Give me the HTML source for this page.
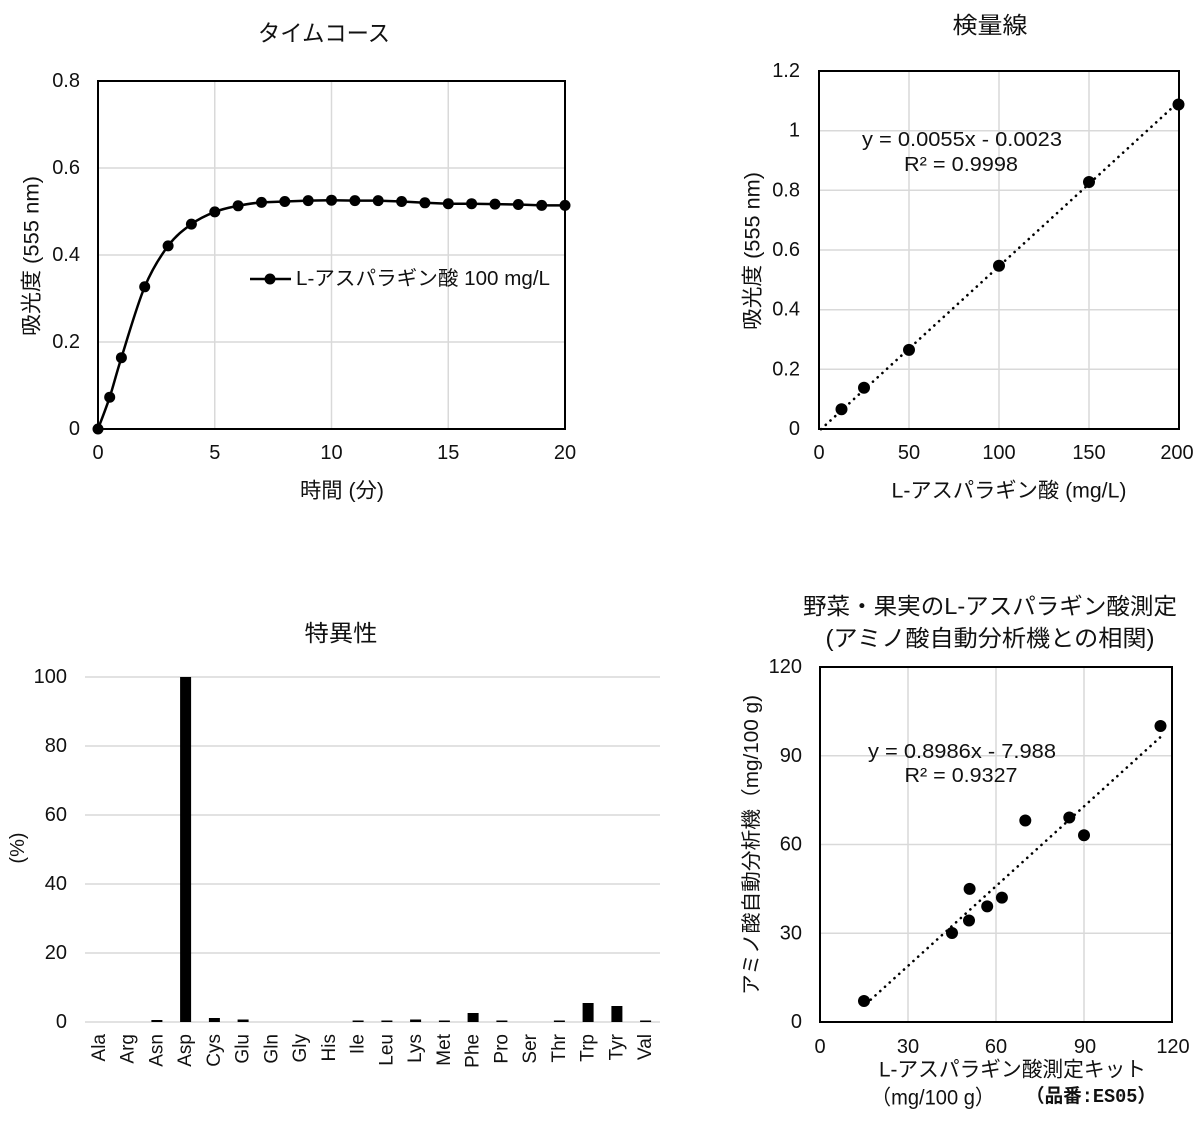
<!DOCTYPE html>
<html>
<head>
<meta charset="utf-8">
<style>
  html,body{margin:0;padding:0;background:#fff;}
  svg{display:block;}
  text{font-family:"Liberation Sans","Noto Sans CJK JP",sans-serif;fill:#111;}
  .t{font-size:20px;}
  .ttl{font-size:23px;}
  .ax{font-size:21px;}
  .cat{font-size:19px;}
</style>
</head>
<body>
<svg width="1200" height="1132" viewBox="0 0 1200 1132" xmlns="http://www.w3.org/2000/svg">
<rect width="1200" height="1132" fill="#fff"/>

<!-- ============ Chart 1: タイムコース ============ -->
<g>
  <text class="ttl" x="324" y="33" text-anchor="middle" dominant-baseline="central" textLength="132" lengthAdjust="spacingAndGlyphs">タイムコース</text>
  <!-- grid -->
  <g stroke="#d9d9d9" stroke-width="1.5">
    <line x1="214.75" y1="81" x2="214.75" y2="429"/>
    <line x1="331.5" y1="81" x2="331.5" y2="429"/>
    <line x1="448.25" y1="81" x2="448.25" y2="429"/>
    <line x1="98" y1="168" x2="565" y2="168"/>
    <line x1="98" y1="255" x2="565" y2="255"/>
    <line x1="98" y1="342" x2="565" y2="342"/>
  </g>
  <rect x="98" y="81" width="467" height="348" fill="none" stroke="#000" stroke-width="2"/>
  <!-- y ticks -->
  <g class="t" text-anchor="end">
    <text x="80" y="81" dominant-baseline="central">0.8</text>
    <text x="80" y="168" dominant-baseline="central">0.6</text>
    <text x="80" y="255" dominant-baseline="central">0.4</text>
    <text x="80" y="342" dominant-baseline="central">0.2</text>
    <text x="80" y="429" dominant-baseline="central">0</text>
  </g>
  <g class="t" text-anchor="middle">
    <text x="98" y="453" dominant-baseline="central">0</text>
    <text x="214.75" y="453" dominant-baseline="central">5</text>
    <text x="331.5" y="453" dominant-baseline="central">10</text>
    <text x="448.25" y="453" dominant-baseline="central">15</text>
    <text x="565" y="453" dominant-baseline="central">20</text>
  </g>
  <text class="ax" x="32" y="256" transform="rotate(-90 32 256)" text-anchor="middle" dominant-baseline="central" textLength="160" lengthAdjust="spacingAndGlyphs">吸光度 (555 nm)</text>
  <text class="ax" x="342" y="491" text-anchor="middle" dominant-baseline="central" textLength="84" lengthAdjust="spacingAndGlyphs">時間 (分)</text>
  <!-- curve -->
  <path fill="none" stroke="#000" stroke-width="2.5" stroke-linejoin="round"
    d="M98,429 C99.95,423.7 105.8,409.1 109.7,397.2
       C113.6,385.3 115.57,376.1 121.4,357.7
       C127.23,339.3 136.9,305.4 144.7,286.8
       C152.5,268.2 160.3,256.35 168.1,245.9
       C175.9,235.45 183.6,229.8 191.4,224.1
       C199.2,218.4 207.0,214.95 214.8,211.9
       C222.6,208.85 230.3,207.4 238.1,205.8
       C246,204.3 253.7,203 261.5,202.4
       L284.8,201.5 L308.2,200.6 L331.5,200.2 L354.9,200.6 L378.2,200.6 L401.6,201.5
       L424.9,202.8 L448.3,203.7 L471.6,203.7 L495,204.1 L518.3,204.5 L541.7,205.4 L565,205.4"/>
  <g fill="#000">
    <circle cx="98" cy="429" r="5.5"/>
    <circle cx="109.7" cy="397.2" r="5.5"/>
    <circle cx="121.4" cy="357.7" r="5.5"/>
    <circle cx="144.7" cy="286.8" r="5.5"/>
    <circle cx="168.1" cy="245.9" r="5.5"/>
    <circle cx="191.4" cy="224.1" r="5.5"/>
    <circle cx="214.8" cy="211.9" r="5.5"/>
    <circle cx="238.1" cy="205.8" r="5.5"/>
    <circle cx="261.5" cy="202.4" r="5.5"/>
    <circle cx="284.8" cy="201.5" r="5.5"/>
    <circle cx="308.2" cy="200.6" r="5.5"/>
    <circle cx="331.5" cy="200.2" r="5.5"/>
    <circle cx="354.9" cy="200.6" r="5.5"/>
    <circle cx="378.2" cy="200.6" r="5.5"/>
    <circle cx="401.6" cy="201.5" r="5.5"/>
    <circle cx="424.9" cy="202.8" r="5.5"/>
    <circle cx="448.3" cy="203.7" r="5.5"/>
    <circle cx="471.6" cy="203.7" r="5.5"/>
    <circle cx="495" cy="204.1" r="5.5"/>
    <circle cx="518.3" cy="204.5" r="5.5"/>
    <circle cx="541.7" cy="205.4" r="5.5"/>
    <circle cx="565" cy="205.4" r="5.5"/>
  </g>
  <!-- legend -->
  <line x1="250" y1="279" x2="291" y2="279" stroke="#000" stroke-width="2.5"/>
  <circle cx="270" cy="279" r="5.5" fill="#000"/>
  <text class="t" x="296" y="279" dominant-baseline="central" textLength="254" lengthAdjust="spacingAndGlyphs">L-アスパラギン酸 100 mg/L</text>
</g>

<!-- ============ Chart 2: 検量線 ============ -->
<g>
  <text class="ttl" x="990" y="25" text-anchor="middle" dominant-baseline="central" textLength="75" lengthAdjust="spacingAndGlyphs">検量線</text>
  <g stroke="#d9d9d9" stroke-width="1.5">
    <line x1="909" y1="71" x2="909" y2="429"/>
    <line x1="999" y1="71" x2="999" y2="429"/>
    <line x1="1089" y1="71" x2="1089" y2="429"/>
    <line x1="819" y1="130.7" x2="1179" y2="130.7"/>
    <line x1="819" y1="190.3" x2="1179" y2="190.3"/>
    <line x1="819" y1="250" x2="1179" y2="250"/>
    <line x1="819" y1="309.7" x2="1179" y2="309.7"/>
    <line x1="819" y1="369.3" x2="1179" y2="369.3"/>
  </g>
  <rect x="819" y="71" width="360" height="358" fill="none" stroke="#000" stroke-width="2"/>
  <g class="t" text-anchor="end">
    <text x="800" y="71" dominant-baseline="central">1.2</text>
    <text x="800" y="130.7" dominant-baseline="central">1</text>
    <text x="800" y="190.3" dominant-baseline="central">0.8</text>
    <text x="800" y="250" dominant-baseline="central">0.6</text>
    <text x="800" y="309.7" dominant-baseline="central">0.4</text>
    <text x="800" y="369.3" dominant-baseline="central">0.2</text>
    <text x="800" y="429" dominant-baseline="central">0</text>
  </g>
  <g class="t" text-anchor="middle">
    <text x="819" y="453" dominant-baseline="central">0</text>
    <text x="909" y="453" dominant-baseline="central">50</text>
    <text x="999" y="453" dominant-baseline="central">100</text>
    <text x="1089" y="453" dominant-baseline="central">150</text>
    <text x="1177" y="453" dominant-baseline="central">200</text>
  </g>
  <text class="ax" x="753" y="251" transform="rotate(-90 753 251)" text-anchor="middle" dominant-baseline="central" textLength="158" lengthAdjust="spacingAndGlyphs">吸光度 (555 nm)</text>
  <text class="ax" x="1009" y="491" text-anchor="middle" dominant-baseline="central" textLength="235" lengthAdjust="spacingAndGlyphs">L-アスパラギン酸 (mg/L)</text>
  <line x1="821" y1="429.2" x2="1179" y2="101.5" stroke="#000" stroke-width="2.6" stroke-dasharray="0.1 6.3" stroke-linecap="round"/>
  <g fill="#000">
    <circle cx="841.5" cy="409.3" r="6"/>
    <circle cx="864" cy="387.8" r="6"/>
    <circle cx="909" cy="349.9" r="6"/>
    <circle cx="999" cy="265.8" r="6"/>
    <circle cx="1089" cy="182" r="6"/>
    <circle cx="1178.5" cy="104.5" r="6"/>
  </g>
  <text class="t" x="962" y="140" text-anchor="middle" dominant-baseline="central" textLength="200" lengthAdjust="spacingAndGlyphs">y = 0.0055x - 0.0023</text>
  <text class="t" x="961" y="165" text-anchor="middle" dominant-baseline="central" textLength="114" lengthAdjust="spacingAndGlyphs">R² = 0.9998</text>
</g>

<!-- ============ Chart 3: 特異性 ============ -->
<g>
  <text class="ttl" x="341" y="633" text-anchor="middle" dominant-baseline="central" textLength="73" lengthAdjust="spacingAndGlyphs">特異性</text>
  <g stroke="#d9d9d9" stroke-width="1.5">
    <line x1="85" y1="677" x2="660" y2="677"/>
    <line x1="85" y1="746" x2="660" y2="746"/>
    <line x1="85" y1="815" x2="660" y2="815"/>
    <line x1="85" y1="884" x2="660" y2="884"/>
    <line x1="85" y1="953" x2="660" y2="953"/>
    <line x1="85" y1="1022" x2="660" y2="1022"/>
  </g>
  <g class="t" text-anchor="end">
    <text x="67" y="677" dominant-baseline="central">100</text>
    <text x="67" y="746" dominant-baseline="central">80</text>
    <text x="67" y="815" dominant-baseline="central">60</text>
    <text x="67" y="884" dominant-baseline="central">40</text>
    <text x="67" y="953" dominant-baseline="central">20</text>
    <text x="67" y="1022" dominant-baseline="central">0</text>
  </g>
  <text class="t" x="18" y="848" transform="rotate(-90 18 848)" text-anchor="middle" dominant-baseline="central">(%)</text>
  <g fill="#000">
    <rect x="151.4" y="1020" width="11" height="2"/>
    <rect x="180.1" y="677" width="11" height="345"/>
    <rect x="208.9" y="1018" width="11" height="4"/>
    <rect x="237.6" y="1019.5" width="11" height="2.5"/>
    <rect x="352.6" y="1020.5" width="11" height="1.5"/>
    <rect x="381.4" y="1020.5" width="11" height="1.5"/>
    <rect x="410.1" y="1019.5" width="11" height="2.5"/>
    <rect x="438.9" y="1020.5" width="11" height="1.5"/>
    <rect x="467.6" y="1013" width="11" height="9"/>
    <rect x="496.4" y="1020.5" width="11" height="1.5"/>
    <rect x="553.9" y="1020.5" width="11" height="1.5"/>
    <rect x="582.6" y="1003" width="11" height="19"/>
    <rect x="611.4" y="1006" width="11" height="16"/>
    <rect x="640.1" y="1020.5" width="11" height="1.5"/>
  </g>
  <g class="cat" text-anchor="end">
    <text x="99.4" y="1034" transform="rotate(-90 99.4 1034)" dominant-baseline="central">Ala</text>
    <text x="128.1" y="1034" transform="rotate(-90 128.1 1034)" dominant-baseline="central">Arg</text>
    <text x="156.9" y="1034" transform="rotate(-90 156.9 1034)" dominant-baseline="central">Asn</text>
    <text x="185.6" y="1034" transform="rotate(-90 185.6 1034)" dominant-baseline="central">Asp</text>
    <text x="214.4" y="1034" transform="rotate(-90 214.4 1034)" dominant-baseline="central">Cys</text>
    <text x="243.1" y="1034" transform="rotate(-90 243.1 1034)" dominant-baseline="central">Glu</text>
    <text x="271.9" y="1034" transform="rotate(-90 271.9 1034)" dominant-baseline="central">Gln</text>
    <text x="300.6" y="1034" transform="rotate(-90 300.6 1034)" dominant-baseline="central">Gly</text>
    <text x="329.4" y="1034" transform="rotate(-90 329.4 1034)" dominant-baseline="central">His</text>
    <text x="358.1" y="1034" transform="rotate(-90 358.1 1034)" dominant-baseline="central">Ile</text>
    <text x="386.9" y="1034" transform="rotate(-90 386.9 1034)" dominant-baseline="central">Leu</text>
    <text x="415.6" y="1034" transform="rotate(-90 415.6 1034)" dominant-baseline="central">Lys</text>
    <text x="444.4" y="1034" transform="rotate(-90 444.4 1034)" dominant-baseline="central">Met</text>
    <text x="473.1" y="1034" transform="rotate(-90 473.1 1034)" dominant-baseline="central">Phe</text>
    <text x="501.9" y="1034" transform="rotate(-90 501.9 1034)" dominant-baseline="central">Pro</text>
    <text x="530.6" y="1034" transform="rotate(-90 530.6 1034)" dominant-baseline="central">Ser</text>
    <text x="559.4" y="1034" transform="rotate(-90 559.4 1034)" dominant-baseline="central">Thr</text>
    <text x="588.1" y="1034" transform="rotate(-90 588.1 1034)" dominant-baseline="central">Trp</text>
    <text x="616.9" y="1034" transform="rotate(-90 616.9 1034)" dominant-baseline="central">Tyr</text>
    <text x="645.6" y="1034" transform="rotate(-90 645.6 1034)" dominant-baseline="central">Val</text>
  </g>
</g>

<!-- ============ Chart 4: 相関 ============ -->
<g>
  <text class="ttl" x="990" y="606" text-anchor="middle" dominant-baseline="central" textLength="374" lengthAdjust="spacingAndGlyphs">野菜・果実のL-アスパラギン酸測定</text>
  <text class="ttl" x="990" y="638" text-anchor="middle" dominant-baseline="central" textLength="329" lengthAdjust="spacingAndGlyphs">(アミノ酸自動分析機との相関)</text>
  <g stroke="#d9d9d9" stroke-width="1.5">
    <line x1="908" y1="667" x2="908" y2="1022"/>
    <line x1="996" y1="667" x2="996" y2="1022"/>
    <line x1="1084" y1="667" x2="1084" y2="1022"/>
    <line x1="820" y1="755.75" x2="1172" y2="755.75"/>
    <line x1="820" y1="844.5" x2="1172" y2="844.5"/>
    <line x1="820" y1="933.25" x2="1172" y2="933.25"/>
  </g>
  <rect x="820" y="667" width="352" height="355" fill="none" stroke="#000" stroke-width="2"/>
  <g class="t" text-anchor="end">
    <text x="802" y="667" dominant-baseline="central">120</text>
    <text x="802" y="755.75" dominant-baseline="central">90</text>
    <text x="802" y="844.5" dominant-baseline="central">60</text>
    <text x="802" y="933.25" dominant-baseline="central">30</text>
    <text x="802" y="1022" dominant-baseline="central">0</text>
  </g>
  <g class="t" text-anchor="middle">
    <text x="820" y="1047" dominant-baseline="central">0</text>
    <text x="908" y="1047" dominant-baseline="central">30</text>
    <text x="996" y="1047" dominant-baseline="central">60</text>
    <text x="1085" y="1047" dominant-baseline="central">90</text>
    <text x="1173" y="1047" dominant-baseline="central">120</text>
  </g>
  <text class="t" x="752" y="845" transform="rotate(-90 752 845)" text-anchor="middle" dominant-baseline="central" textLength="300" lengthAdjust="spacingAndGlyphs">アミノ酸自動分析機（mg/100 g)</text>
  <line x1="866" y1="1004" x2="1160" y2="737.5" stroke="#000" stroke-width="2.6" stroke-dasharray="0.1 6.3" stroke-linecap="round"/>
  <g fill="#000">
    <circle cx="864" cy="1001" r="6"/>
    <circle cx="952" cy="933" r="6"/>
    <circle cx="969" cy="920.5" r="6"/>
    <circle cx="969.6" cy="888.9" r="6"/>
    <circle cx="987.2" cy="906.4" r="6"/>
    <circle cx="1001.9" cy="897.6" r="6"/>
    <circle cx="1025.3" cy="820.5" r="6"/>
    <circle cx="1069.3" cy="817.5" r="6"/>
    <circle cx="1084" cy="835.3" r="6"/>
    <circle cx="1160.5" cy="726" r="6"/>
  </g>
  <text class="t" x="962" y="752" text-anchor="middle" dominant-baseline="central" textLength="188" lengthAdjust="spacingAndGlyphs">y = 0.8986x - 7.988</text>
  <text class="t" x="961" y="776" text-anchor="middle" dominant-baseline="central" textLength="113" lengthAdjust="spacingAndGlyphs">R² = 0.9327</text>
  <text class="ax" x="879" y="1070" dominant-baseline="central" textLength="267" lengthAdjust="spacingAndGlyphs">L-アスパラギン酸測定キット</text>
  <text class="ax" x="871" y="1098" dominant-baseline="central" textLength="124" lengthAdjust="spacingAndGlyphs">（mg/100 g）</text>
  <text x="1026" y="1097" dominant-baseline="central" font-size="19" font-weight="bold" textLength="130" lengthAdjust="spacingAndGlyphs" style="font-family:'Liberation Mono','Noto Sans CJK JP',monospace;">（品番:ES05）</text>
</g>
</svg>
</body>
</html>
